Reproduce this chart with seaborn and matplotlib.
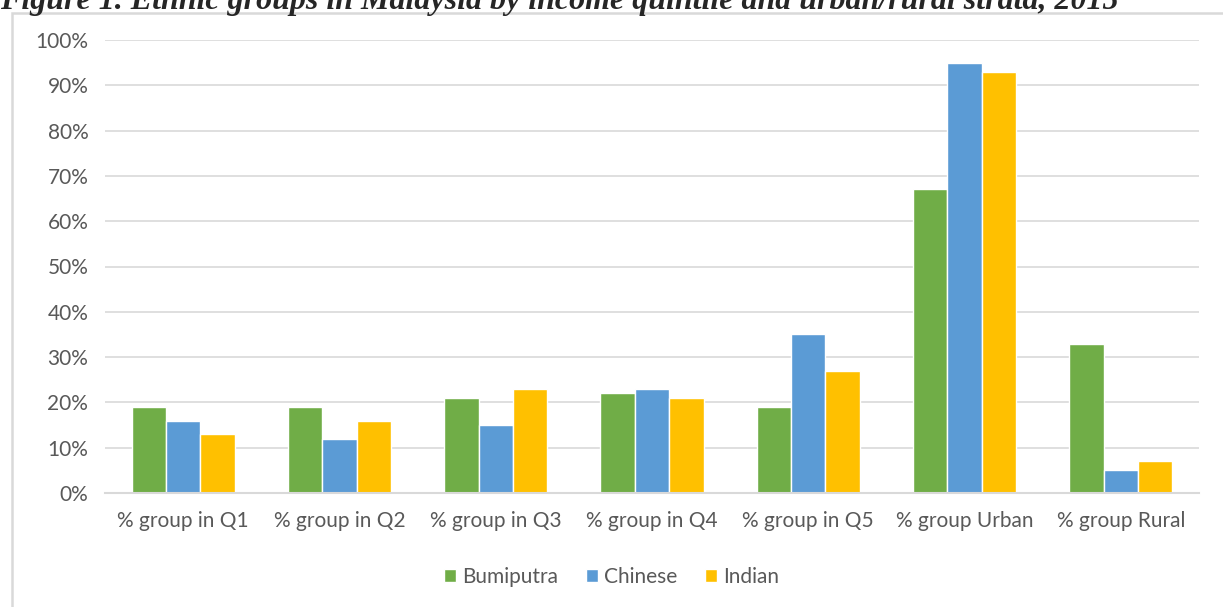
import pandas as pd
import seaborn as sns
import matplotlib.pyplot as plt
from matplotlib.patches import Rectangle
from matplotlib.ticker import PercentFormatter

# data
categories = ['% group in Q1', '% group in Q2', '% group in Q3', '% group in Q4',
              '% group in Q5', '% group Urban', '% group Rural']
bumiputra = [19, 19, 21, 22, 19, 67, 33]
chinese = [16, 12, 15, 23, 35, 95, 5]
indian = [13, 16, 23, 21, 27, 93, 7]
groups = ['Bumiputra', 'Chinese', 'Indian']
colors = ['#70AD47', '#5B9BD5', '#FFC000']

df = pd.DataFrame({'category': categories, 'Bumiputra': bumiputra,
                   'Chinese': chinese, 'Indian': indian})
df = df.melt(id_vars='category', var_name='group', value_name='value')
df['value'] = df['value'] / 100

sns.set_style('white')
plt.rcParams['font.family'] = ['Lato', 'DejaVu Sans']
text_col = '#595959'
grid_col = '#D9D9D9'

fig = plt.figure(figsize=(12.23, 6.07), dpi=100)
ax = fig.add_axes([105 / 1223, 1 - 493 / 607, (1199 - 105) / 1223, (493 - 40) / 607])

sns.barplot(data=df, x='category', y='value', hue='group', hue_order=groups,
            palette=colors, width=0.66, gap=0, saturation=1, ax=ax, legend=True)

ax.set_ylim(0, 1)
ax.set_yticks([i / 10 for i in range(11)])
ax.yaxis.set_major_formatter(PercentFormatter(1.0, decimals=0))
ax.grid(axis='y', color=grid_col, lw=1.2)
ax.set_axisbelow(True)
for s in ['top', 'right', 'left']:
    ax.spines[s].set_visible(False)
ax.spines['bottom'].set_color(grid_col)
ax.spines['bottom'].set_linewidth(1.5)
ax.tick_params(axis='both', length=0, labelsize=15, colors=text_col)
ax.tick_params(axis='x', pad=13)
ax.tick_params(axis='y', pad=12)
ax.set_xlabel('')
ax.set_ylabel('')

leg = ax.legend(loc='center', bbox_to_anchor=(0.5, 1 - 577 / 607), bbox_transform=fig.transFigure,
                ncol=3, frameon=False, fontsize=15, handlelength=0.6, handleheight=0.6,
                handletextpad=0.3, columnspacing=1.3, labelcolor=text_col)

# chart frame (partly outside the image)
fig.patches.append(Rectangle((12 / 1223, -0.1), 1.2, 1 - 13 / 607 + 0.1, transform=fig.transFigure,
                             fill=False, edgecolor=grid_col, lw=1.8))

fig.text(0.0, 1 - 9 / 607, 'Figure 1. Ethnic groups in Malaysia by income quintile and urban/rural strata, 2015',
         family='Liberation Serif', fontsize=23, weight='bold', style='italic', va='baseline', ha='left')

fig.savefig('out.png', dpi=100)
